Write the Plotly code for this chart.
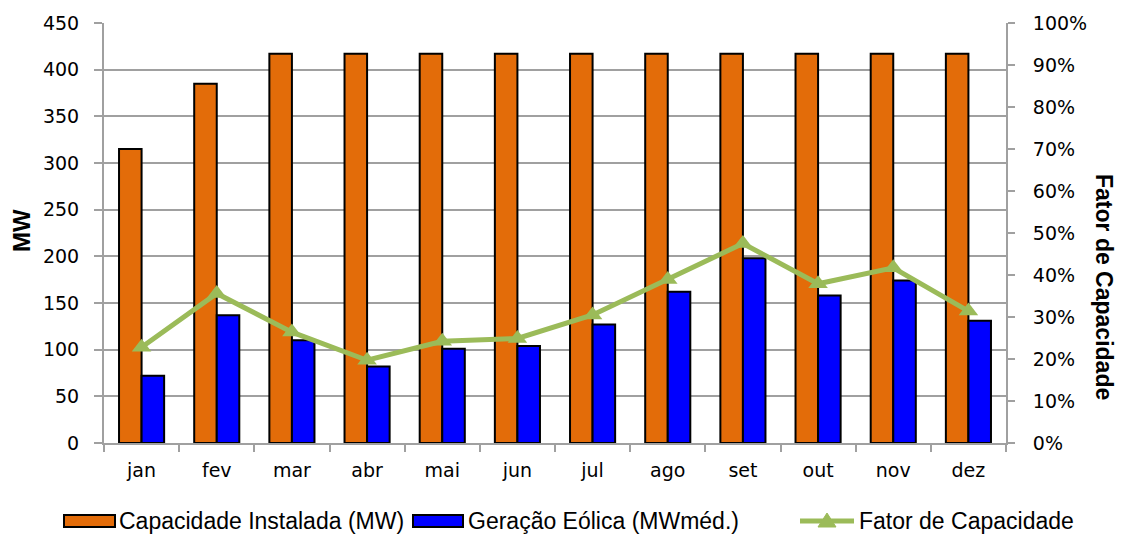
import plotly.graph_objects as go

# Monthly wind data
months = ["jan", "fev", "mar", "abr", "mai", "jun", "jul", "ago", "set", "out", "nov", "dez"]
capacidade_mw = [315, 385, 417, 417, 417, 417, 417, 417, 417, 417, 417, 417]
geracao_mwmed = [72, 137, 110, 82, 101, 104, 127, 162, 198, 158, 174, 131]
fator_capacidade = [0.228, 0.356, 0.264, 0.197, 0.242, 0.249, 0.305, 0.389, 0.475, 0.379, 0.417, 0.314]

ORANGE = "#E36C09"
BLUE = "#0000FF"
GREEN = "#9BBB59"
GRID = "#A0A0A0"

W, H = 1124, 536
L, R, T, B = 104, 118, 23, 93
PW, PH = W - L - R, H - T - B


def px(x):
    return (x - L) / PW


def py(y):
    return (H - B - y) / PH


fig = go.Figure()
fig.add_trace(go.Bar(
    x=months, y=capacidade_mw, name="Capacidade Instalada (MW)",
    marker=dict(color=ORANGE, line=dict(color="black", width=2)),
    showlegend=False,
))
fig.add_trace(go.Bar(
    x=months, y=geracao_mwmed, name="Geração Eólica (MWméd.)",
    marker=dict(color=BLUE, line=dict(color="black", width=2)),
    showlegend=False,
))
fig.add_trace(go.Scatter(
    x=months, y=fator_capacidade, name="Fator de Capacidade", yaxis="y2",
    mode="lines+markers",
    line=dict(color=GREEN, width=5),
    marker=dict(symbol="triangle-up", size=17, color=GREEN),
    showlegend=False,
))

tick_font = dict(family="DejaVu Sans", size=19, color="black")

fig.update_layout(
    width=W, height=H, autosize=False,
    margin=dict(l=L, r=R, t=T, b=B, pad=0),
    paper_bgcolor="white", plot_bgcolor="white",
    barmode="group", bargap=0.40, bargroupgap=0,
    xaxis=dict(
        range=[-0.5, len(months) - 0.5],
        showline=True, linecolor=GRID, linewidth=2,
        ticks="outside", tickson="boundaries", ticklen=7, tickcolor=GRID, tickwidth=2,
        tickfont=tick_font, ticklabelstandoff=9,
    ),
    yaxis=dict(
        range=[0, 450], dtick=50, tickmode="linear",
        showgrid=True, gridcolor=GRID, gridwidth=2,
        showline=True, linecolor=GRID, linewidth=2,
        ticks="outside", ticklen=8, tickcolor=GRID, tickwidth=2,
        tickfont=tick_font, ticklabelstandoff=11,
        zeroline=False,
    ),
    yaxis2=dict(
        overlaying="y", side="right",
        range=[0, 1], dtick=0.1, tickmode="linear", tickformat=".0%",
        showgrid=False, zeroline=False,
        showline=True, linecolor=GRID, linewidth=2,
        ticks="outside", ticklen=7, tickcolor=GRID, tickwidth=2,
        tickfont=tick_font, ticklabelstandoff=14,
    ),
)

annotations = [
    dict(text="<b>MW</b>", textangle=-90, x=px(21), y=py(231),
         xref="paper", yref="paper", showarrow=False,
         font=dict(family="Liberation Sans", size=24, color="black"),
         xanchor="center", yanchor="middle"),
    dict(text="<b>Fator de Capacidade</b>", textangle=90, x=px(1104), y=py(287),
         xref="paper", yref="paper", showarrow=False,
         font=dict(family="Liberation Sans", size=23, color="black"),
         xanchor="center", yanchor="middle"),
]

# Legend drawn along the bottom
legend_font = dict(family="Liberation Sans", size=23, color="black")
ly = 521
shapes = [
    dict(type="rect", xref="paper", yref="paper", x0=px(64), x1=px(115), y0=py(515), y1=py(527),
         fillcolor=ORANGE, line=dict(color="black", width=2)),
    dict(type="rect", xref="paper", yref="paper", x0=px(413), x1=px(463), y0=py(515), y1=py(527),
         fillcolor=BLUE, line=dict(color="black", width=2)),
    dict(type="line", xref="paper", yref="paper", x0=px(800), x1=px(854), y0=py(ly), y1=py(ly),
         line=dict(color=GREEN, width=5)),
    dict(type="path", xref="paper", yref="paper",
         path=f"M {px(818)} {py(527)} L {px(836)} {py(527)} L {px(827)} {py(513)} Z",
         fillcolor=GREEN, line=dict(color=GREEN, width=1)),
]
for x0, label in [(117, "Capacidade Instalada (MW)"), (466, "Geração Eólica (MWméd.)"),
                  (857, "Fator de Capacidade")]:
    annotations.append(dict(text=label, x=px(x0), y=py(ly), xref="paper", yref="paper",
                            showarrow=False, xanchor="left", yanchor="middle", font=legend_font))

fig.update_layout(annotations=annotations, shapes=shapes)

fig.write_html("out.html")
